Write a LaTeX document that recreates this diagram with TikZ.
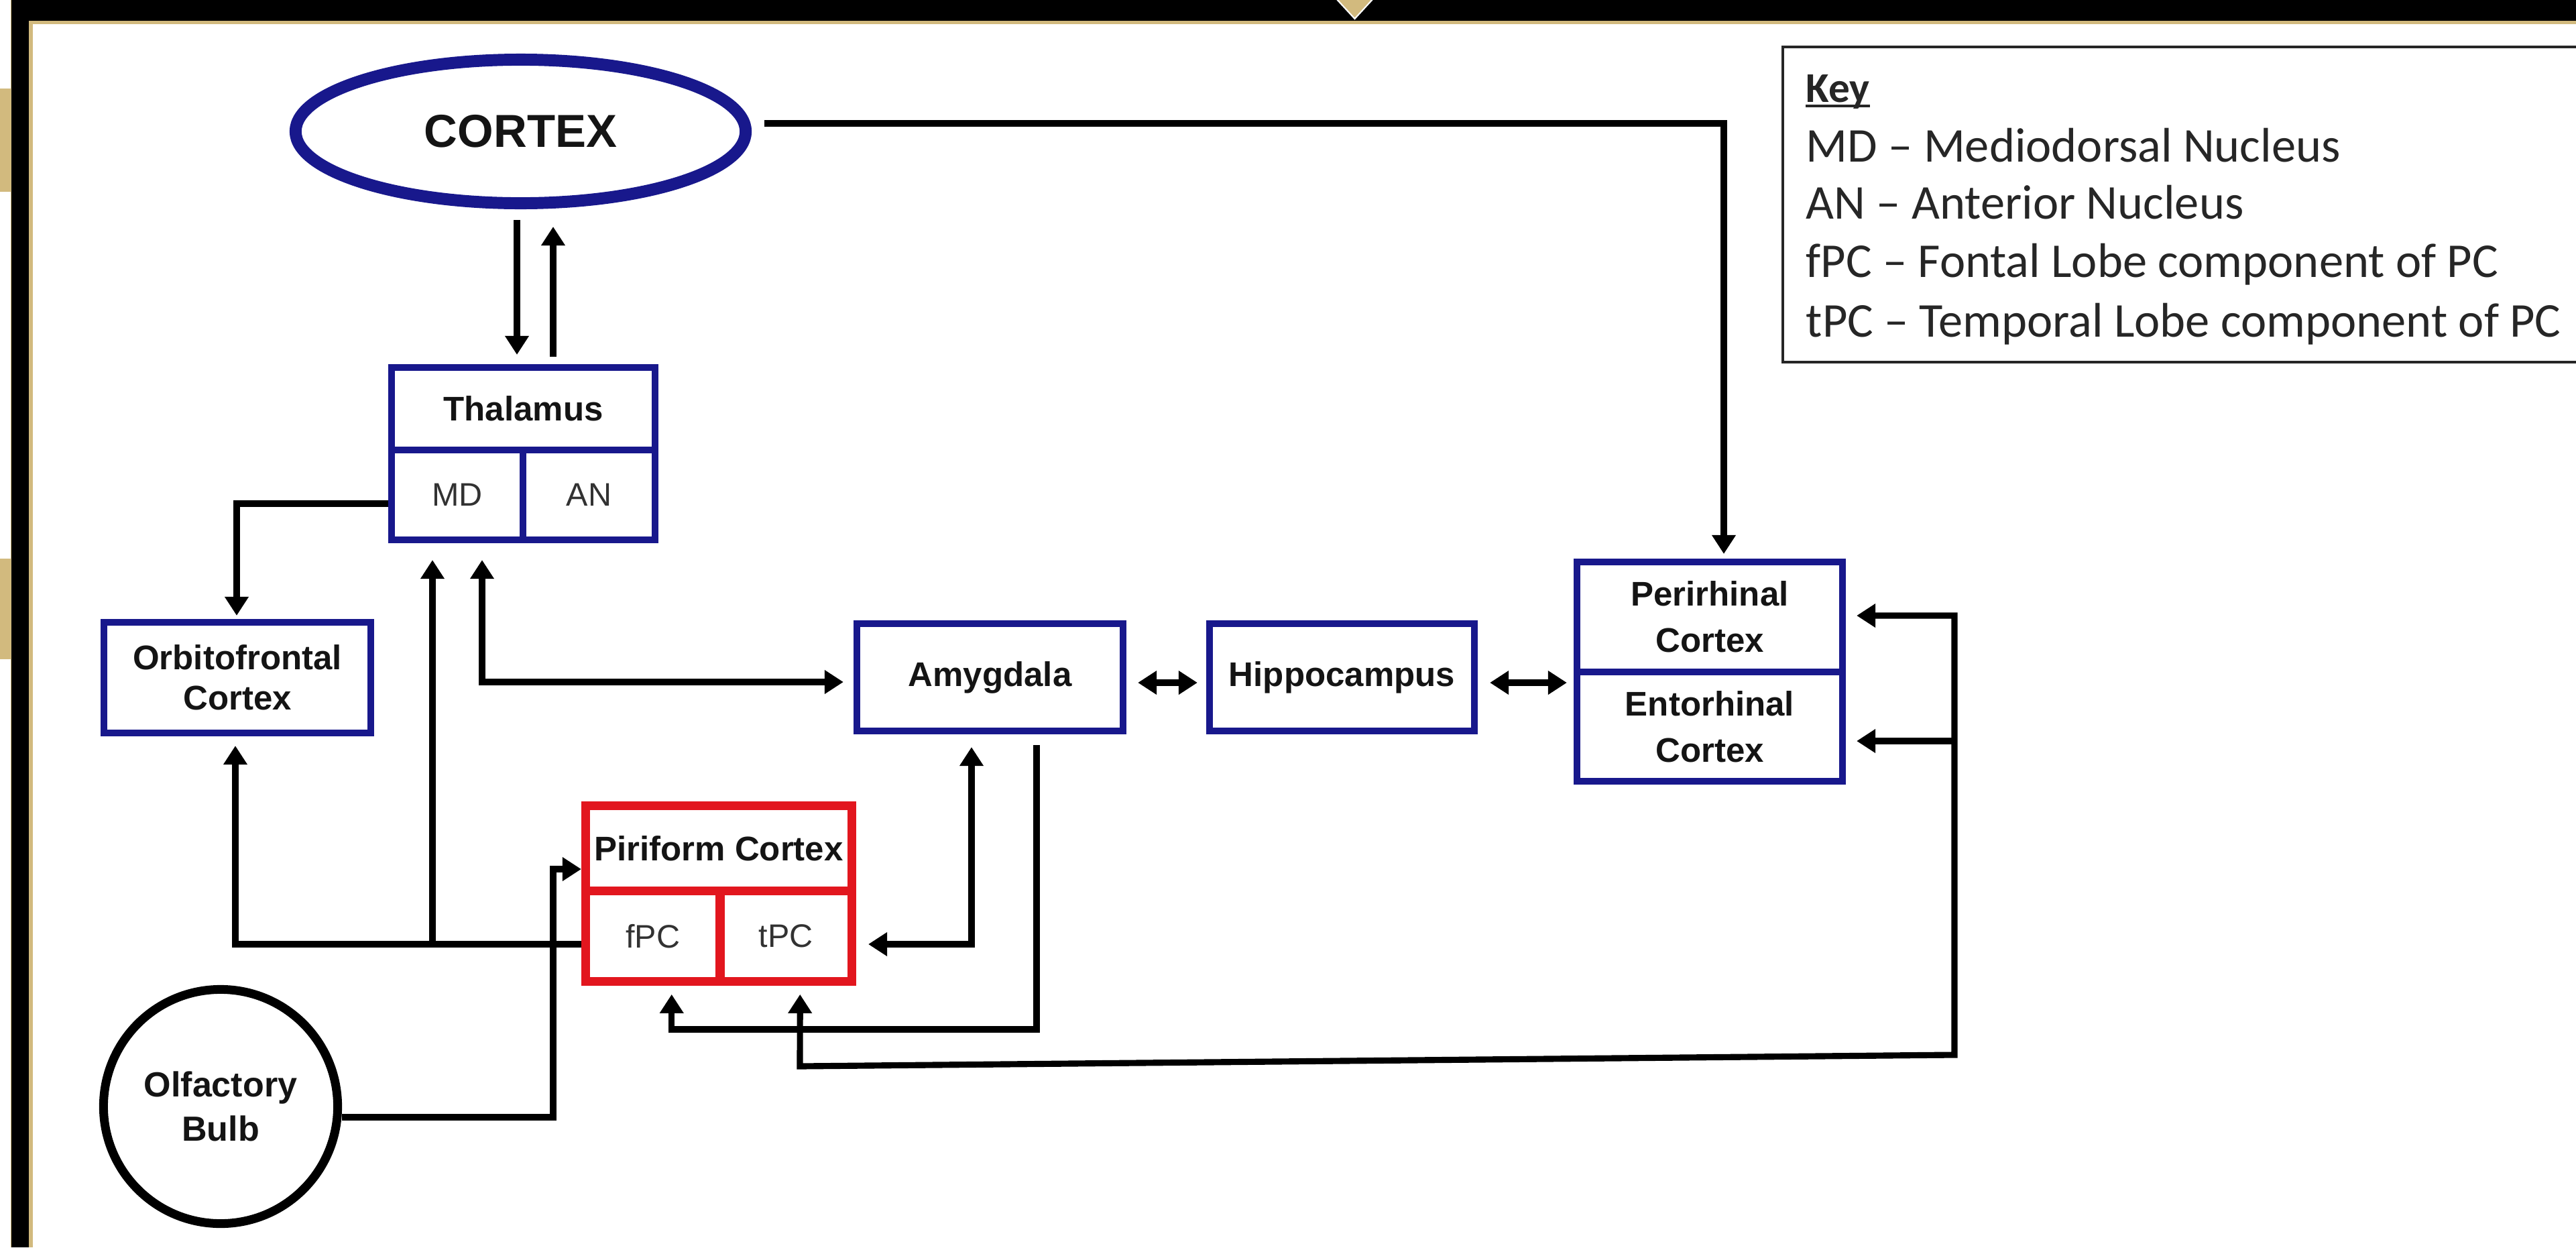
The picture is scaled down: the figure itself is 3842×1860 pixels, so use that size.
\documentclass[tikz,border=0pt]{standalone}
\usepackage{fontspec}
\setmainfont{Liberation Sans}
\newfontfamily\keyfont[Ligatures=TeX]{Carlito}
\usetikzlibrary{arrows.meta,shapes.geometric}
\definecolor{nblue}{RGB}{24,24,140}
\definecolor{pred}{RGB}{226,22,30}
\definecolor{gold}{RGB}{210,186,126}
\definecolor{subgray}{RGB}{50,50,50}
\begin{document}
\begin{tikzpicture}[x=0.01cm,y=-0.01cm,
  lbl/.style={font=\fontsize{14.5}{17}\selectfont\bfseries, text=black!92, align=center},
  bbox/.style={lbl, draw=nblue, line width=2.85pt, rectangle, inner sep=0pt},
  rbox/.style={lbl, draw=pred, line width=3.7pt, rectangle, inner sep=0pt},
  subl/.style={font=\fontsize{13.8}{16}\selectfont, text=subgray},
  conn/.style={line width=2.6pt, black},
  tip/.style={-{Triangle[length=0.28cm,width=0.34cm]}},
  tips/.style={{Triangle[length=0.28cm,width=0.34cm]}-{Triangle[length=0.28cm,width=0.34cm]}},
  keyt/.style={font=\keyfont\fontsize{20.6}{25}\selectfont, text=black!85, anchor=base west, inner sep=0pt}
]
\useasboundingbox (0,0) rectangle (3842,1860);
% frame
\fill[white] (0,0) rectangle (3842,1860);
\fill[black] (17,0) rectangle (3842,31);
\fill[black] (17,0) rectangle (43,1860);
\fill[gold] (43,31) rectangle (3842,36);
\fill[gold] (43,31) rectangle (49,1860);
\fill[gold] (15.5,0) rectangle (17,1860);
\fill[gold] (0,132) rectangle (16,286);
\fill[gold] (0,833) rectangle (16,983);
\filldraw[fill=gold, draw=white, line width=0.6pt] (1992,-3) -- (2049,-3) -- (2020.5,28) -- cycle;

% key
\draw[line width=1.1pt, black!85] (3860,70) -- (2659,70) -- (2659,540) -- (3860,540);
\node[keyt, font=\keyfont\bfseries\fontsize{18}{22}\selectfont] (keyhead) at (2693,152) {Key};
\draw[line width=1pt, black!85] ([yshift=-0.06cm]keyhead.base west) -- ([yshift=-0.06cm]keyhead.base east);
\node[keyt] (k1) at (2693,241) {MD – Mediodorsal Nucleus};
\node[keyt] (k2) at (2693,326) {AN – Anterior Nucleus};
\node[keyt] (k3) at (2693,413) {fPC – Fontal Lobe component of PC};
\node[keyt] (k4) at (2693,502) {tPC – Temporal Lobe component of PC};

% nodes
\node[draw=nblue, line width=5.1pt, ellipse, inner sep=0pt, minimum width=6.71cm, minimum height=2.14cm,
      font=\fontsize{19.6}{22}\selectfont\bfseries, text=black!92] (cortex) at (776.5,196) {CORTEX};
\node[bbox, minimum width=3.93cm, minimum height=1.23cm] (thalT) at (780.5,609.5) {Thalamus};
\node[bbox, subl, minimum width=1.96cm, minimum height=1.34cm] (md) at (682,738) {MD};
\node[bbox, subl, minimum width=1.97cm, minimum height=1.34cm] (an) at (878.5,738) {AN};
\node[bbox, minimum width=3.98cm, minimum height=1.65cm] (ofc) at (354,1010.5) {Orbitofrontal\\Cortex};
\node[bbox, minimum width=3.97cm, minimum height=1.60cm] (amyg) at (1476.5,1010) {Amygdala};
\node[bbox, minimum width=3.95cm, minimum height=1.60cm] (hippo) at (2001.5,1010) {Hippocampus};
\node[bbox, font=\fontsize{14.5}{19.5}\selectfont\bfseries, minimum width=3.96cm, minimum height=1.64cm] (peri) at (2550,920) {Perirhinal\\Cortex};
\node[bbox, font=\fontsize{14.5}{19.5}\selectfont\bfseries, minimum width=3.96cm, minimum height=1.63cm] (ento) at (2550,1083.5) {Entorhinal\\Cortex};
\node[rbox, minimum width=3.97cm, minimum height=1.275cm] (pcT) at (1072,1265) {Piriform Cortex};
\node[rbox, subl, minimum width=2.005cm, minimum height=1.345cm] (fpc) at (973.75,1396) {fPC};
\node[rbox, subl, minimum width=1.965cm, minimum height=1.345cm] (tpc) at (1172.25,1396) {tPC};
\node[draw=black, line width=3.7pt, circle, inner sep=0pt, minimum size=3.49cm,
      font=\fontsize{14.8}{18.8}\selectfont\bfseries, text=black!92, align=center] (olf) at (329,1650) {Olfactory\\Bulb};

% junction coordinates
\coordinate (j1) at (645,1408);
\coordinate (a1) at (1546,1535);
\coordinate (l1) at (1193,1590);
\coordinate (l2) at (2915,1573);
\coordinate (l3) at (2915,918);
\coordinate (l4) at (2915,1105);
\coordinate (o1) at (825,1296);

% connectors
\draw[conn,tip] ([shift={(-5.5,16)}]cortex.south) -- ([shift={(-9.5,-14)}]thalT.north);
\draw[conn,tip] ([shift={(44.5,-11)}]thalT.north) -- ([shift={(48.5,26)}]cortex.south);
\draw[conn,tip] ([shift={(19,-12)}]cortex.east) -| ([shift={(21,-7)}]peri.north);
\draw[conn,tip] ([shift={(0,13)}]md.west) -| ([shift={(-1,-5)}]ofc.north);
\draw[conn,tip] ([shift={(0,12)}]fpc.west) -| ([shift={(-3,14)}]ofc.south);
\draw[conn,tip] (j1) -- ([shift={(-37,25)}]md.south);
\draw[conn,tips] ([shift={(37,25)}]md.south) |- ([shift={(-15,7)}]amyg.west);
\draw[conn,tips] ([shift={(17,8)}]amyg.east) -- ([shift={(-13,8)}]hippo.west);
\draw[conn,tips] ([shift={(18,8)}]hippo.east) -- ([shift={(-10,-65.5)}]ento.west);
\draw[conn,tips] ([shift={(-27.5,19)}]amyg.south) |- ([shift={(18,12)}]tpc.east);
\draw[conn,tip] ([shift={(69.5,16)}]amyg.south) -- (a1) -| ([shift={(28,13)}]fpc.south);
\draw[conn,tips] ([shift={(21,13)}]tpc.south) -- (l1) -- (l2) -- (l3) -- ([shift={(16,-2)}]peri.east);
\draw[conn,tip] (l4) -- ([shift={(16,21.5)}]ento.east);
\draw[conn,tip] ([shift={(0,16)}]olf.east) -| (o1) -- ([shift={(0,31)}]pcT.west);
\end{tikzpicture}
\end{document}
